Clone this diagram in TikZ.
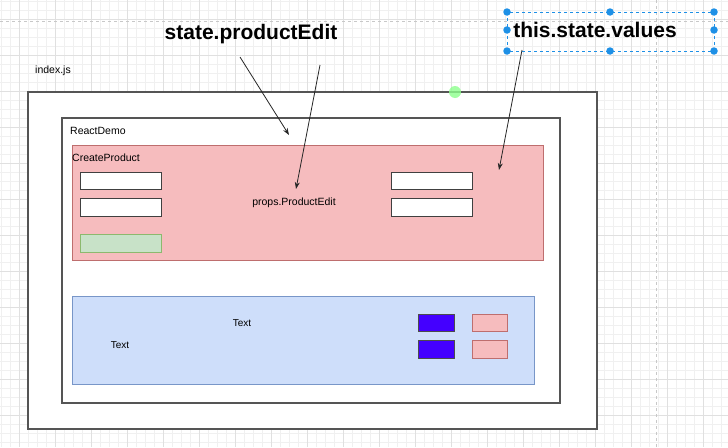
\documentclass[tikz,border=0pt]{standalone}
\usepackage{fontspec}
\setmainfont{Liberation Sans}
\usetikzlibrary{arrows.meta}
\definecolor{gridminor}{RGB}{240,240,240}
\definecolor{gridmajor}{RGB}{224,224,224}
\definecolor{guide}{RGB}{200,200,200}
\definecolor{boxline}{RGB}{85,85,85}
\definecolor{pinkfill}{RGB}{246,188,190}
\definecolor{pinkline}{RGB}{190,110,110}
\definecolor{bluefill}{RGB}{206,222,250}
\definecolor{blueline}{RGB}{120,150,200}
\definecolor{greenfill}{RGB}{200,226,200}
\definecolor{greenline}{RGB}{140,185,110}
\definecolor{violet}{RGB}{68,0,255}
\definecolor{selblue}{RGB}{30,144,230}
\tikzset{
  frame/.style={draw=boxline, line width=1.1pt, fill=white},
  lbl/.style={font=\fontsize{10.5}{12}\selectfont, inner sep=0pt},
  title/.style={font=\fontsize{21}{24}\selectfont\bfseries, inner sep=0pt},
  inputbox/.style={draw=black!75, line width=0.9pt, fill=white},
  arr/.style={-{Stealth[length=7pt,width=5pt]}, line width=0.8pt, draw=black!85},
  handle/.style={circle, fill=selblue, inner sep=0pt, minimum size=7.5pt},
}
\begin{document}
\begin{tikzpicture}[x=1pt,y=-1pt]
\useasboundingbox (0,0) rectangle (728,447);
% canvas grid
\foreach \x in {1,10,...,728} \draw[gridminor, line width=0.4pt] (\x,0) -- (\x,447);
\foreach \y in {1,10,...,447} \draw[gridminor, line width=0.4pt] (0,\y) -- (728,\y);
\foreach \x in {19,55,...,728} \draw[gridmajor, line width=0.6pt] (\x,0) -- (\x,447);
\foreach \y in {19,55,...,447} \draw[gridmajor, line width=0.6pt] (0,\y) -- (728,\y);
% guide lines
\draw[guide, dashed, line width=0.8pt] (0,21) -- (728,21);
\draw[guide, dashed, line width=0.8pt] (656,0) -- (656,447);

% boxes
\node[lbl, anchor=west] (indexlbl) at (35,71) {index.js};
\draw[frame] (28,92) rectangle (597,429);
\draw[frame] (62,118) rectangle (560,403);
\node[lbl, anchor=west] (reactlbl) at (70,131) {ReactDemo};

\node[draw=pinkline, fill=pinkfill, line width=0.7pt, minimum width=471pt, minimum height=115pt, anchor=north west, inner sep=0pt] (create) at (72,145) {};
\node[lbl, anchor=west] (createlbl) at (72,158) {CreateProduct};
\draw[inputbox] (80,172) rectangle (161,189);
\draw[inputbox] (80,198) rectangle (161,216);
\draw[draw=greenline, fill=greenfill, line width=0.9pt] (80,234) rectangle (161,252);
\draw[inputbox] (391,172) rectangle (472,189);
\draw[inputbox] (391,198) rectangle (472,216);
\node[lbl] (props) at (294,203) {props.ProductEdit};

\node[draw=blueline, fill=bluefill, line width=0.7pt, minimum width=462pt, minimum height=88pt, anchor=north west, inner sep=0pt] (bluebox) at (72,296) {};
\node[font=\fontsize{10}{12}\selectfont, inner sep=0pt] (text1) at (242,323) {Text};
\node[font=\fontsize{10}{12}\selectfont, inner sep=0pt] (text2) at (120,345) {Text};
\draw[draw=black!70, fill=violet, line width=0.8pt] (418,314) rectangle (454,331);
\draw[draw=black!70, fill=violet, line width=0.8pt] (418,340) rectangle (454,358);
\draw[draw=pinkline, fill=pinkfill, line width=0.9pt] (472,314) rectangle (507,331);
\draw[draw=pinkline, fill=pinkfill, line width=0.9pt] (472,340) rectangle (507,358);

% titles
\node[title] (stateEdit) at (251,34) {state.productEdit};
\node[title] (stateValues) at (595,30) {this.state.values};
% selection around this.state.values
\draw[selblue, dashed, line width=0.6pt] (507,12) rectangle (714,51);
\foreach \p in {(507,12),(610,12),(714,12),(507,30),(714,30),(507,51),(610,51),(714,51)}
  \node[handle] at \p {};
% green hover dot
\node[circle, fill=green!45!white, opacity=0.8, inner sep=0pt, minimum size=12pt] (hover) at (455,92) {};

% arrows
\coordinate (a1s) at (240,57);
\coordinate (a1e) at (289,135);
\coordinate (a2s) at (320,65);
\coordinate (a2e) at (296,189);
\coordinate (a3s) at (522,50);
\coordinate (a3e) at (499,170);
\draw[arr] (a1s) -- (a1e);
\draw[arr] (a2s) -- (a2e);
\draw[arr] (a3s) -- (a3e);
\end{tikzpicture}
\end{document}
